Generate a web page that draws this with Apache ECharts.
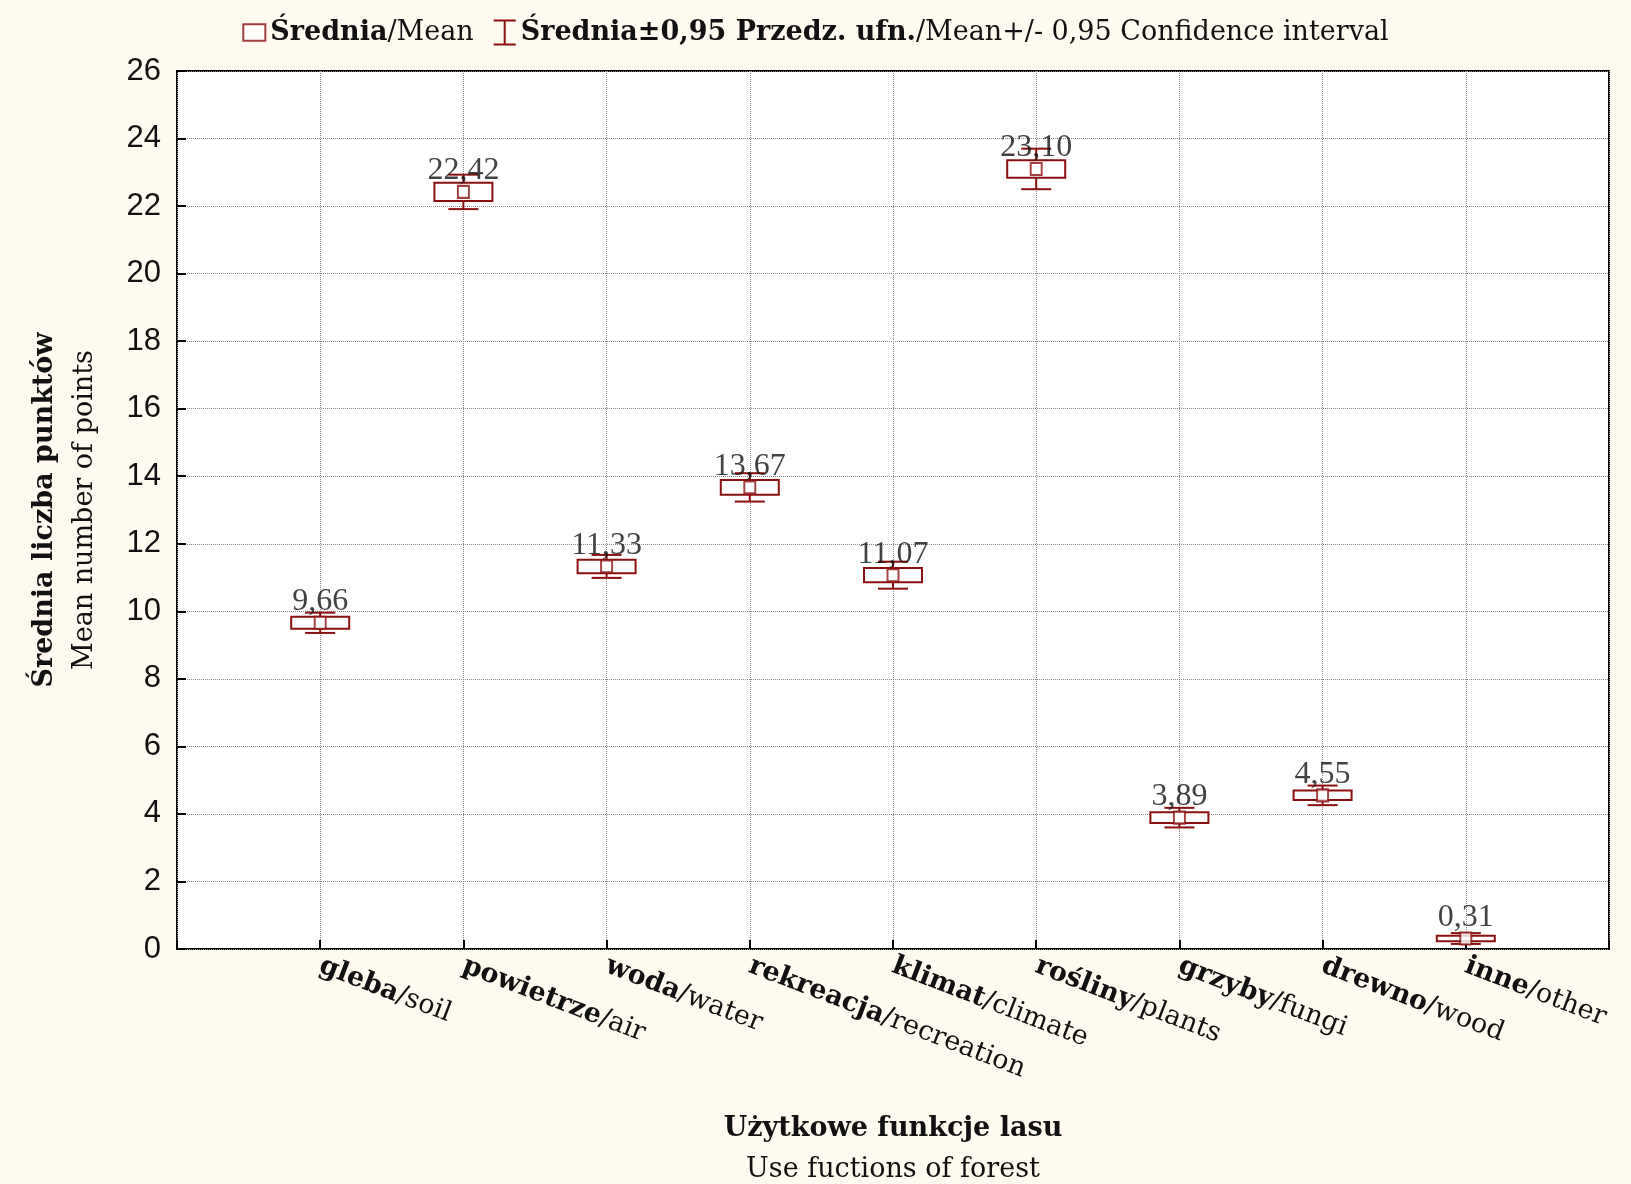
<!DOCTYPE html>
<html>
<head>
<meta charset="utf-8">
<title>Użytkowe funkcje lasu</title>
<script src="https://cdn.jsdelivr.net/npm/echarts@6/dist/echarts.min.js"></script>
<style>
  html, body { margin: 0; padding: 0; background: #fffaef; }
  #chart { width: 1631px; height: 1184px; }
</style>
</head>
<body>
<div id="chart"></div>
<script>
'use strict';

// categories on the x axis (bold Polish part / English part)
const categories = [
  'gleba/soil', 'powietrze/air', 'woda/water', 'rekreacja/recreation',
  'klimat/climate', 'rośliny/plants', 'grzyby/fungi', 'drewno/wood', 'inne/other'
];
// mean values
const means = [9.66, 22.42, 11.33, 13.67, 11.07, 23.10, 3.89, 4.55, 0.31];
// half height of the box (mean +/- standard error)
const boxHalf = [0.18, 0.27, 0.20, 0.22, 0.21, 0.26, 0.16, 0.14, 0.08];
// half height of the whiskers (0.95 confidence interval)
const ciHalf = [0.30, 0.51, 0.34, 0.42, 0.40, 0.60, 0.29, 0.29, 0.16];
const yTicks = [0, 2, 4, 6, 8, 10, 12, 14, 16, 18, 20, 22, 24, 26];

const RED = '#8b0f0f';
const SERIF = '"Liberation Serif", "Times New Roman", serif';
const WIDE = '"DejaVu Serif", serif';

const meanName = 'Średnia/Mean';
const ciName = 'Średnia±0,95 Przedz. ufn./Mean+/- 0,95 Confidence interval';

const ciData = means.map((m, i) => [i + 1, m, m - boxHalf[i], m + boxHalf[i], m - ciHalf[i], m + ciHalf[i]]);
const meanData = means.map((m, i) => [i + 1, m]);

function renderBox(params, api) {
  const x = api.value(0);
  const boxLo = api.coord([x, api.value(2)]);
  const boxHi = api.coord([x, api.value(3)]);
  const ciLo = api.coord([x, api.value(4)]);
  const ciHi = api.coord([x, api.value(5)]);
  const cx = boxLo[0];
  const bw = 29, cw = 15;
  const line = { stroke: RED, lineWidth: 2, fill: null };
  return {
    type: 'group',
    children: [
      { type: 'line', shape: { x1: cx, y1: ciHi[1], x2: cx, y2: ciLo[1] }, style: line },
      { type: 'line', shape: { x1: cx - cw, y1: ciHi[1], x2: cx + cw, y2: ciHi[1] }, style: line },
      { type: 'line', shape: { x1: cx - cw, y1: ciLo[1], x2: cx + cw, y2: ciLo[1] }, style: line },
      {
        type: 'rect',
        shape: { x: cx - bw, y: boxHi[1], width: bw * 2, height: boxLo[1] - boxHi[1] },
        style: { fill: '#fff', stroke: RED, lineWidth: 2 }
      }
    ]
  };
}

function richText(size) {
  return {
    b: { fontFamily: WIDE, fontSize: size, fontWeight: 'bold', color: '#111' },
    r: { fontFamily: WIDE, fontSize: size, color: '#111' }
  };
}

const chart = echarts.init(document.getElementById('chart'));
chart.setOption({
  backgroundColor: '#fffaef',
  animation: false,
  textStyle: { fontFamily: SERIF },
  legend: {
    top: 14,
    left: 'center',
    itemWidth: 22,
    itemHeight: 26,
    itemGap: 20,
    symbolKeepAspect: true,
    textStyle: {
      fontFamily: WIDE,
      fontSize: 27,
      color: '#111',
      rich: richText(27)
    },
    formatter: name => {
      if (name === meanName) return '{b|Średnia}{r|/Mean}';
      return '{b|Średnia±0,95 Przedz. ufn.}{r|/Mean+/- 0,95 Confidence interval}';
    },
    data: [
      {
        name: meanName,
        icon: 'path://M0,0H20V15H0Z',
        itemStyle: { color: '#fff', borderColor: RED, borderWidth: 2 }
      },
      {
        name: ciName,
        icon: 'path://M0,0H22V2H12V24H22V26H0V24H10V2H0Z',
        itemStyle: { color: RED, borderWidth: 0 }
      }
    ]
  },
  grid: {
    left: 177, right: 22, top: 71, bottom: 235,
    outerBoundsMode: 'none',
    containLabel: false,
    show: true,
    backgroundColor: '#fff',
    borderColor: '#000',
    borderWidth: 2
  },
  xAxis: {
    type: 'value',
    min: 0,
    max: categories.length + 1,
    interval: 1,
    axisLine: { show: false },
    axisTick: { show: true, inside: true, length: 9, lineStyle: { color: '#000', width: 2 } },
    splitLine: { show: true, lineStyle: { color: '#888', type: 'dotted', width: 1 } },
    axisLabel: {
      rotate: -21,
      margin: 16,
      fontFamily: WIDE,
      fontSize: 27,
      color: '#111',
      formatter: v => {
        const c = categories[v - 1];
        if (!c) return '';
        const k = c.indexOf('/');
        return '{b|' + c.substring(0, k) + '}{r|' + c.substring(k) + '}';
      },
      rich: richText(27)
    },
    name: '{b|Użytkowe funkcje lasu}\n{r|Use fuctions of forest}',
    nameLocation: 'middle',
    nameGap: 159,
    nameTextStyle: {
      align: 'center',
      verticalAlign: 'top',
      rich: {
        b: { fontFamily: WIDE, fontSize: 27, fontWeight: 'bold', color: '#111', lineHeight: 41, align: 'center' },
        r: { fontFamily: WIDE, fontSize: 27, color: '#111', lineHeight: 41, align: 'center' }
      }
    }
  },
  yAxis: {
    type: 'value',
    min: yTicks[0],
    max: yTicks[yTicks.length - 1],
    interval: 2,
    axisLine: { show: false },
    axisTick: { show: true, inside: true, length: 9, lineStyle: { color: '#000', width: 2 } },
    splitLine: { show: true, lineStyle: { color: '#888', type: 'dotted', width: 1 } },
    axisLabel: {
      margin: 16,
      fontFamily: '"Liberation Sans", Arial, sans-serif',
      fontSize: 31,
      color: '#111'
    },
    name: '{b|Średnia liczba punktów}\n{r|Mean number of points}',
    nameLocation: 'middle',
    nameRotate: 90,
    nameGap: 72,
    nameTextStyle: {
      rich: {
        b: { fontFamily: WIDE, fontSize: 27, fontWeight: 'bold', color: '#111', lineHeight: 40, align: 'center' },
        r: { fontFamily: WIDE, fontSize: 27, color: '#111', lineHeight: 40, align: 'center' }
      }
    }
  },
  series: [
    {
      name: ciName,
      type: 'custom',
      renderItem: renderBox,
      encode: { x: 0, y: [1, 2, 3, 4, 5] },
      itemStyle: { color: RED },
      data: ciData,
      z: 3
    },
    {
      name: meanName,
      type: 'scatter',
      symbol: 'rect',
      symbolSize: [11, 12],
      itemStyle: { color: '#fff', borderColor: RED, borderWidth: 2 },
      label: {
        show: true,
        position: 'top',
        distance: -2,
        fontFamily: SERIF,
        fontSize: 32,
        color: '#111',
        formatter: p => p.value[1].toFixed(2).replace('.', ',')
      },
      data: meanData,
      z: 5
    }
  ]
});
</script>
</body>
</html>
